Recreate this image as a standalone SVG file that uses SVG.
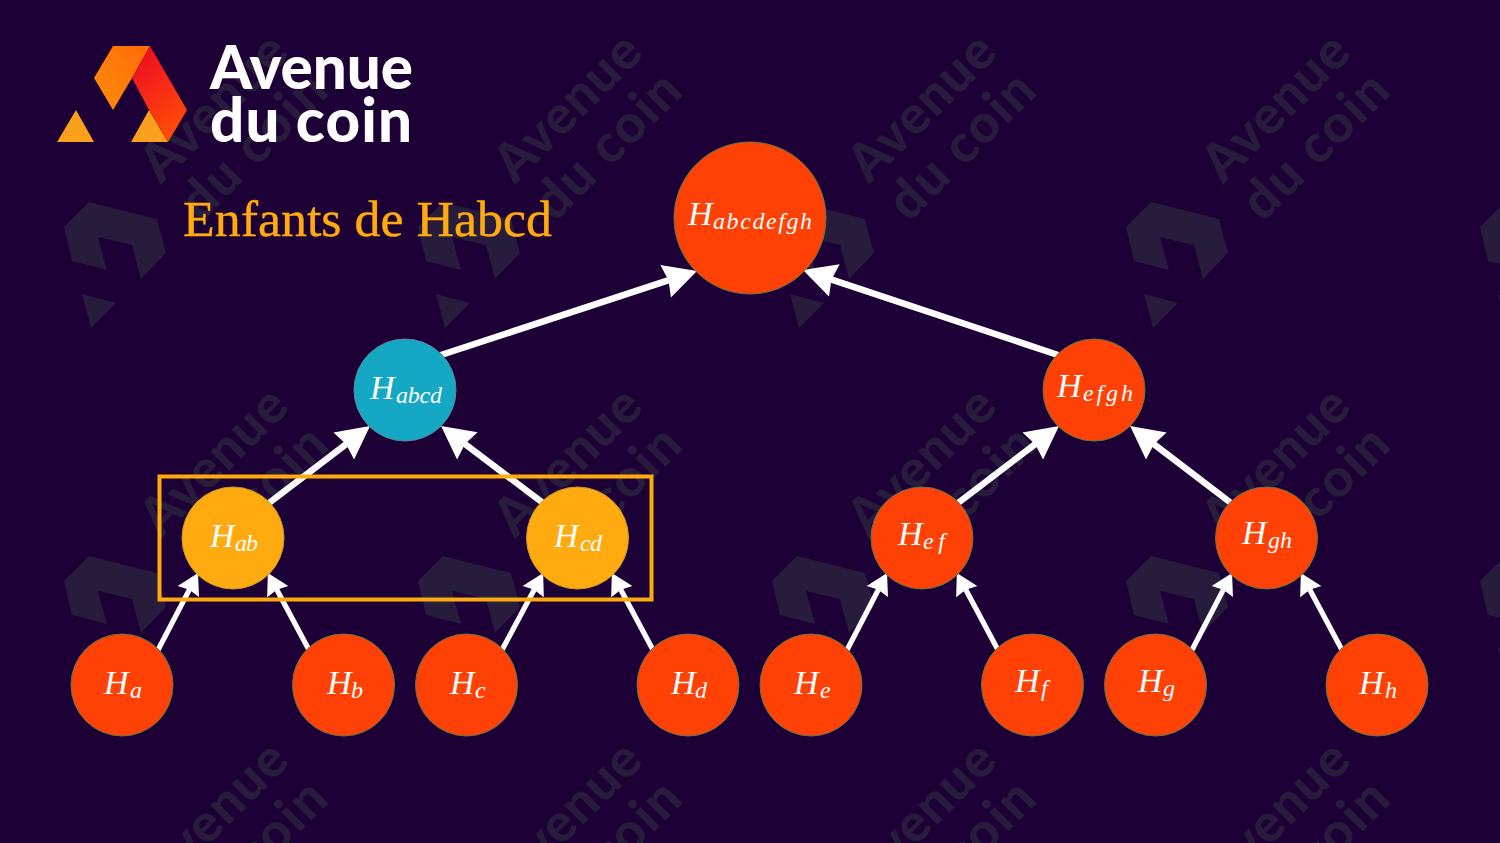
<svg xmlns="http://www.w3.org/2000/svg" width="1500" height="843" viewBox="0 0 1500 843">
<style>
.wm{font-family:"Lato","Liberation Sans",sans-serif;font-weight:900;font-size:53px;fill:#271c3b}
.brand{font-family:"Lato","Liberation Sans",sans-serif;font-weight:900;font-size:60px;fill:#fff}
.title{font-family:"Liberation Serif",serif;font-size:50px;fill:#ffab0f;stroke:#ffab0f;stroke-width:.4}
.n{stroke:#5f7a4a;stroke-width:1}
.red{fill:#ff4105}.blue{fill:#15a8c4;stroke:#5a8a99}.amber{fill:#ffab0f;stroke:#c79a30}
.lab{font-family:"Liberation Serif",serif;font-style:italic;font-size:34px;fill:#fff}
.sub{font-size:24px}
.big{fill:none;stroke:#fff;stroke-width:6.500;marker-end:url(#headBig)}
.small{fill:none;stroke:#fff;stroke-width:5.200;marker-end:url(#headSmall)}
</style>
<defs>
<marker id="headBig" markerUnits="userSpaceOnUse" markerWidth="36" markerHeight="36" viewBox="0 0 36 36" refX="14" refY="18" orient="auto"><path d="M1 1L34 18L1 35L4 18Z" fill="#fff"/></marker>
<marker id="headSmall" markerUnits="userSpaceOnUse" markerWidth="26" markerHeight="26" viewBox="0 0 26 26" refX="10" refY="13" orient="auto"><path d="M1 1L22 13L1 25L3 13Z" fill="#fff"/></marker>
<linearGradient id="gOrange" gradientUnits="userSpaceOnUse" x1="95" y1="100" x2="150" y2="46"><stop offset="0" stop-color="#ff8a08"/><stop offset="1" stop-color="#ff6a0a"/></linearGradient>
<linearGradient id="gRed" gradientUnits="userSpaceOnUse" x1="135" y1="65" x2="180" y2="125"><stop offset="0" stop-color="#ef1220"/><stop offset="1" stop-color="#ff4a08"/></linearGradient>
<g id="wmTile">
<text class="wm" transform="translate(515 185) rotate(-45)" textLength="184">Avenue</text>
<text class="wm" transform="translate(555 223) rotate(-45)" textLength="183">du coin</text>
</g>
<g id="wmLogo">
<path d="M89 202L157 219L166 253L141 279L132 245L98 237L107 270L72 261L64 227Z" fill="#271c3b"/>
<path d="M82 294L116 303L91 328Z" fill="#271c3b"/>
</g>
</defs>
<rect width="1500" height="843" fill="#1d0036"/>
<g id="watermark">
<use href="#wmTile" x="-354"/><use href="#wmTile"/><use href="#wmTile" x="354"/><use href="#wmTile" x="708"/>
<use href="#wmTile" x="-354" y="354"/><use href="#wmTile" y="354"/><use href="#wmTile" x="354" y="354"/><use href="#wmTile" x="708" y="354"/>
<use href="#wmTile" x="-354" y="708"/><use href="#wmTile" y="708"/><use href="#wmTile" x="354" y="708"/><use href="#wmTile" x="708" y="708"/>
<use href="#wmLogo"/><use href="#wmLogo" x="354"/><use href="#wmLogo" x="708"/><use href="#wmLogo" x="1062"/><use href="#wmLogo" x="1416"/>
<use href="#wmLogo" y="354"/><use href="#wmLogo" x="354" y="354"/><use href="#wmLogo" x="708" y="354"/><use href="#wmLogo" x="1062" y="354"/><use href="#wmLogo" x="1416" y="354"/>
</g>
<g id="brand">
<path d="M76 110L57 142L94 142Z" fill="#fba01c"/>
<path d="M149 110L131 142L168 142Z" fill="#fba01c"/>
<path d="M113 46L150 46L132 78L113 110L94 78Z" fill="url(#gOrange)"/>
<path d="M150 46L187 110L168 142L149 110L132 78Z" fill="url(#gRed)"/>
<text class="brand" x="210" y="89" textLength="203">Avenue</text>
<text class="brand" x="210" y="142" textLength="202">du coin</text>
</g>
<text id="title" class="title" x="183" y="236" textLength="369" lengthAdjust="spacingAndGlyphs">Enfants de Habcd</text>
<g id="connectors">
<line class="big" x1="441" y1="355" x2="678" y2="277.2"/>
<line class="big" x1="1058" y1="355" x2="822" y2="276.3"/>
<line class="big" x1="269" y1="503" x2="354.1" y2="438.1"/>
<line class="big" x1="543" y1="503" x2="457" y2="438"/>
<line class="big" x1="958" y1="503" x2="1043.1" y2="438.1"/>
<line class="big" x1="1231" y1="503" x2="1146" y2="438.1"/>
<line class="small" x1="158" y1="650" x2="192.5" y2="583.6"/>
<line class="small" x1="309" y1="650" x2="273.5" y2="583.6"/>
<line class="small" x1="502" y1="650" x2="537.5" y2="583.6"/>
<line class="small" x1="653" y1="650" x2="617.5" y2="583.6"/>
<line class="small" x1="847" y1="650" x2="881.5" y2="583.6"/>
<line class="small" x1="998" y1="650" x2="962.5" y2="583.6"/>
<line class="small" x1="1192" y1="650" x2="1226.5" y2="583.6"/>
<line class="small" x1="1342" y1="650" x2="1306.5" y2="583.6"/>
</g>
<rect id="highlight" x="159.5" y="476.5" width="492" height="123" fill="none" stroke="#ffab0f" stroke-width="4"/>
<g id="node-abcdefgh"><circle class="n red" cx="750" cy="218" r="76"/><text class="lab" x="688" y="225">H<tspan class="sub" x="713" y="229" textLength="99">abcdefgh</tspan></text></g>
<g id="node-abcd"><circle class="n blue" cx="405" cy="390" r="51"/><text class="lab" x="370" y="399">H<tspan class="sub" x="396" y="403" textLength="46">abcd</tspan></text></g>
<g id="node-efgh"><circle class="n red" cx="1094" cy="390" r="51"/><text class="lab" x="1057" y="397">H<tspan class="sub" x="1083" y="401" textLength="50">efgh</tspan></text></g>
<g id="node-ab"><circle class="n amber" cx="233" cy="538" r="51"/><text class="lab" x="210" y="547">H<tspan class="sub" x="235" y="551" textLength="23">ab</tspan></text></g>
<g id="node-cd"><circle class="n amber" cx="577.500" cy="538" r="51"/><text class="lab" x="554" y="547">H<tspan class="sub" x="580" y="551" textLength="22">cd</tspan></text></g>
<g id="node-ef"><circle class="n red" cx="922" cy="538" r="51"/><text class="lab" x="898" y="545">H<tspan class="sub" x="923" y="549" textLength="22">ef</tspan></text></g>
<g id="node-gh"><circle class="n red" cx="1266.500" cy="538" r="51"/><text class="lab" x="1242" y="544">H<tspan class="sub" x="1268" y="548" textLength="24">gh</tspan></text></g>
<g id="node-a"><circle class="n red" cx="122" cy="685" r="51"/><text class="lab" x="104" y="694">H<tspan class="sub" x="130" y="698">a</tspan></text></g>
<g id="node-b"><circle class="n red" cx="343.500" cy="685" r="51"/><text class="lab" x="327" y="694">H<tspan class="sub" x="351" y="698">b</tspan></text></g>
<g id="node-c"><circle class="n red" cx="466.500" cy="685" r="51"/><text class="lab" x="450" y="694">H<tspan class="sub" x="475" y="698">c</tspan></text></g>
<g id="node-d"><circle class="n red" cx="688" cy="685" r="51"/><text class="lab" x="671" y="694">H<tspan class="sub" x="695" y="698">d</tspan></text></g>
<g id="node-e"><circle class="n red" cx="811" cy="685" r="51"/><text class="lab" x="794" y="694">H<tspan class="sub" x="820" y="698">e</tspan></text></g>
<g id="node-f"><circle class="n red" cx="1032.500" cy="685" r="51"/><text class="lab" x="1015" y="692">H<tspan class="sub" x="1041" y="696">f</tspan></text></g>
<g id="node-g"><circle class="n red" cx="1155.500" cy="685" r="51"/><text class="lab" x="1138" y="692">H<tspan class="sub" x="1163" y="696">g</tspan></text></g>
<g id="node-h"><circle class="n red" cx="1377" cy="685" r="51"/><text class="lab" x="1359" y="694">H<tspan class="sub" x="1385" y="698">h</tspan></text></g>
</svg>
